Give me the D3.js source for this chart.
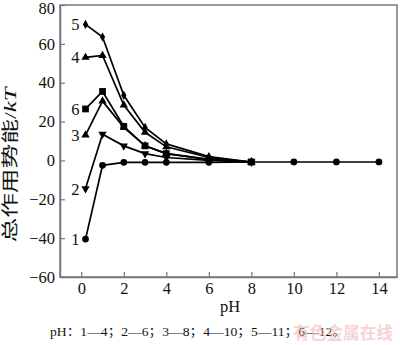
<!DOCTYPE html>
<html>
<head>
<meta charset="utf-8">
<script src="https://cdn.jsdelivr.net/npm/d3@7"></script>
<style>
  html, body { margin: 0; padding: 0; background: #fff; }
  svg { display: block; }
</style>
</head>
<body>
<svg id="chart" width="400" height="345"></svg>
<script>
// pH values sampled along the x axis
const phShort = [0.2, 1, 2, 3, 4, 6, 8];
const phLong = [0.2, 1, 2, 3, 4, 6, 8, 10, 12, 14];

// total interaction energy (kT) for each curve
const curve1 = [-40.5, -2.5, -1, -1, -1, -1, -0.8, -0.8, -0.8, -0.8];
const curve2 = [-14.5, 13.5, 7.5, 3.5, 1.5, 0, -0.8];
const curve3 = [13, 30.5, 17, 7.5, 3.5, 0.5, -0.8];
const curve4 = [53, 54, 28.5, 14.5, 7, 1.5, -0.8];
const curve5 = [70, 63.5, 33.5, 17, 8.5, 2, -0.8];
const curve6 = [26.5, 35.5, 17.5, 7.5, 3.5, 0.5, -0.8];

const curveNames = ["1", "2", "3", "4", "5", "6"];
const xTicks = [0, 2, 4, 6, 8, 10, 12, 14];
const yTicks = [-60, -40, -20, 0, 20, 40, 60, 80];

const series = [
  { name: "1", x: phLong, y: curve1, symbol: d3.symbolCircle, size: 36, rot: 0 },
  { name: "2", x: phShort, y: curve2, symbol: d3.symbolTriangle, size: 30, rot: 180 },
  { name: "3", x: phShort, y: curve3, symbol: d3.symbolTriangle, size: 30, rot: 0 },
  { name: "4", x: phShort, y: curve4, symbol: d3.symbolTriangle, size: 30, rot: 0 },
  { name: "5", x: phShort, y: curve5, symbol: d3.symbolDiamond, size: 24, rot: 0 },
  { name: "6", x: phShort, y: curve6, symbol: d3.symbolSquare, size: 46, rot: 0 }
];

const svg = d3.select("#chart");
const plotLeft = 60, plotRight = 397, plotTop = 5, plotBottom = 277;

const x = d3.scaleLinear().domain([-1, 14.85]).range([plotLeft, plotRight]);
const y = d3.scaleLinear().domain([-60, 80]).range([plotBottom, plotTop]);

const axisColor = "#777";
const serif = "'Liberation Serif', 'Times New Roman', 'Noto Sans CJK SC', serif";

// frame
svg.append("rect")
  .attr("x", plotLeft).attr("y", plotTop)
  .attr("width", plotRight - plotLeft).attr("height", plotBottom - plotTop)
  .attr("fill", "none").attr("stroke", axisColor).attr("stroke-width", 1.5);

// x axis with inward ticks
const xAxis = svg.append("g")
  .attr("transform", `translate(0,${plotBottom})`)
  .call(d3.axisBottom(x).tickValues(xTicks).tickSizeInner(-5).tickSizeOuter(0).tickPadding(5));
xAxis.select(".domain").attr("stroke", axisColor).attr("stroke-width", 1.5);
xAxis.selectAll(".tick line").attr("stroke", axisColor).attr("stroke-width", 1.2);
xAxis.selectAll(".tick text")
  .attr("font-family", serif).attr("font-size", 16.5).attr("fill", "#111");

// y axis with inward ticks
const yAxis = svg.append("g")
  .attr("transform", `translate(${plotLeft},0)`)
  .call(d3.axisLeft(y).tickValues(yTicks).tickSizeInner(-5).tickSizeOuter(0).tickPadding(5)
    .tickFormat(d => d < 0 ? "\u2212" + Math.abs(d) : d));
yAxis.select(".domain").attr("stroke", axisColor).attr("stroke-width", 1.5);
yAxis.selectAll(".tick line").attr("stroke", axisColor).attr("stroke-width", 1.2);
yAxis.selectAll(".tick text")
  .attr("font-family", serif).attr("font-size", 16.5).attr("fill", "#111");
// keep the topmost label inside the page
yAxis.selectAll(".tick text").filter(d => d === 80).attr("dy", "0.5em");

// axis titles
svg.append("text")
  .attr("x", x(7)).attr("y", 312)
  .attr("text-anchor", "middle")
  .attr("font-family", serif).attr("font-size", 16.5).attr("fill", "#111")
  .text("pH");

const yTitle = svg.append("text")
  .attr("transform", `translate(16,${(87 + 243) / 2}) rotate(-90)`)
  .attr("text-anchor", "middle")
  .attr("font-family", serif).attr("font-size", 17).attr("fill", "#111")
  .attr("textLength", 155).attr("lengthAdjust", "spacingAndGlyphs");
yTitle.append("tspan").text("总作用势能/");
yTitle.append("tspan").attr("font-style", "italic").text("kT");

// curves
const line = d3.line().x(d => x(d[0])).y(d => y(d[1]));
series.forEach(s => {
  const pts = s.x.map((v, i) => [v, s.y[i]]);
  svg.append("path")
    .datum(pts)
    .attr("d", line)
    .attr("fill", "none").attr("stroke", "#000").attr("stroke-width", 1.7);
  svg.append("g").selectAll("path")
    .data(pts)
    .join("path")
    .attr("transform", d => `translate(${x(d[0])},${y(d[1])}) rotate(${s.rot})`)
    .attr("d", d3.symbol().type(s.symbol).size(s.size))
    .attr("fill", "#000");
});

// curve numbers next to the first point
series.forEach((s, i) => {
  svg.append("text")
    .attr("x", x(s.x[0]) - 6).attr("y", y(s.y[0]) + 6)
    .attr("text-anchor", "end")
    .attr("font-family", serif).attr("font-size", 16.5).attr("fill", "#111")
    .text(curveNames[i]);
});

// caption
svg.append("text")
  .attr("x", 50).attr("y", 336)
  .attr("font-family", "'Liberation Serif', 'Noto Sans CJK SC', serif")
  .attr("font-size", 12.5).attr("fill", "#111")
  .attr("textLength", 296).attr("lengthAdjust", "spacingAndGlyphs")
  .text("pH：1—4；2—6；3—8；4—10；5—11；6—12。");

// source mark
svg.append("text")
  .attr("x", 293).attr("y", 339)
  .attr("font-family", "'Noto Sans CJK SC', sans-serif")
  .attr("font-size", 17).attr("font-weight", "bold").attr("fill", "#f3b8b8").attr("opacity", 0.6)
  .attr("textLength", 100).attr("lengthAdjust", "spacingAndGlyphs")
  .text("有色金属在线");
</script>
</body>
</html>
